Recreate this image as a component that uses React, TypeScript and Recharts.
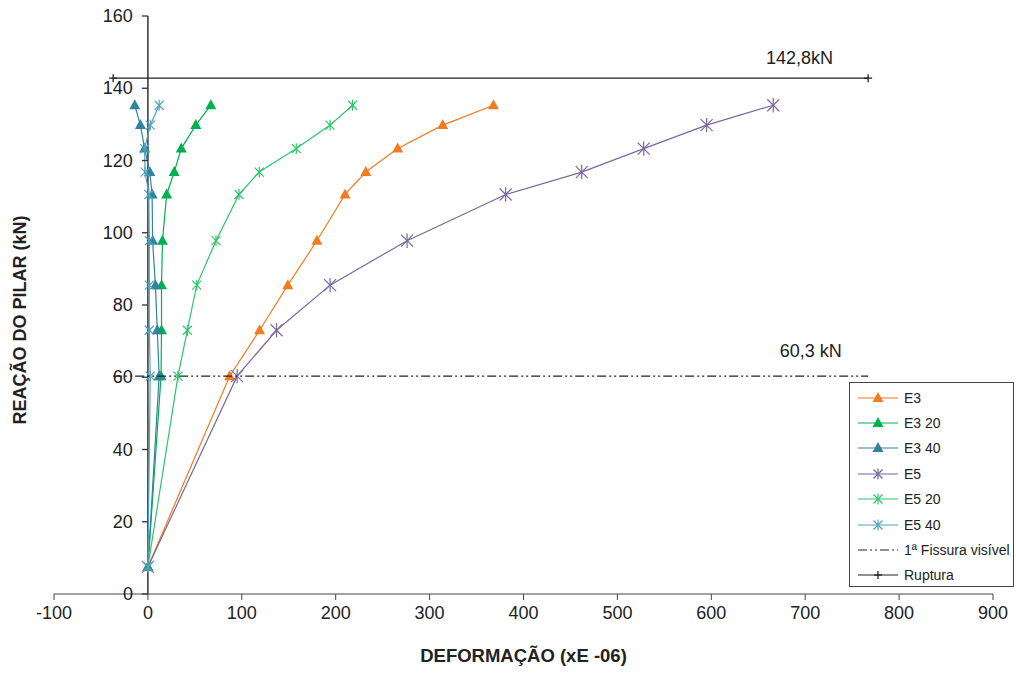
import React from 'react'
import { ScatterChart, Scatter, XAxis, YAxis, ReferenceLine, ReferenceDot, Legend } from 'recharts'

// load levels (kN) shared by all gauges
const loads = [7.5, 60.3, 73, 85.5, 97.8, 110.6, 116.8, 123.3, 129.8, 135.3]

// strain readings (xE-06)
const e3 = [0, 87, 119, 149, 180, 210, 232, 266, 314, 368]
const e3_20 = [0, 14, 14.5, 14.5, 15.5, 20, 28, 35.5, 51, 67]
const e3_40 = [0, 12, 10, 8, 5, 4.5, 2, -3.5, -8, -14]
const e5 = [0, 95, 137, 194, 276, 381, 462, 528, 595, 666]
const e5_20 = [0, 32, 42, 52, 72.5, 97, 118.6, 158, 194, 218]
const e5_40 = [0, 2.5, 1.5, 1.5, 1.5, 1, -3, -3.5, 2.5, 12]

const limitX = [-37, 767]
const fissuraLoad = [60.3, 60.3]
const rupturaLoad = [142.8, 142.8]

const xTicks = [-100, 0, 100, 200, 300, 400, 500, 600, 700, 800, 900]
const yTicks = [0, 20, 40, 60, 80, 100, 120, 140, 160]
const xDomain = [-100, 900]

const W = 1016
const H = 674
const M = { top: 16, right: 23, bottom: 50, left: 53 }
const yAxisW = 1
const xAxisH = 30
const plotLeft = M.left + yAxisW
const plotW = W - plotLeft - M.right
const axisX = plotLeft + ((0 - xDomain[0]) / (xDomain[1] - xDomain[0])) * plotW

const FONT = '"Liberation Sans", Arial, sans-serif'

const pts = (xs: number[], ys: number[]) => xs.map((x, i) => ({ x, y: ys[i] }))

const triangle = (color: string) => (p: any) => {
  const { cx, cy } = p
  if (cx == null) return <g />
  return <path d={`M${cx},${cy - 6} L${cx + 5.5},${cy + 4} L${cx - 5.5},${cy + 4} Z`} fill={color} />
}

const asterisk = (color: string, r: number) => (p: any) => {
  const { cx, cy } = p
  if (cx == null) return <g />
  return (
    <g stroke={color} strokeWidth={1.2}>
      <line x1={cx - r} y1={cy - r} x2={cx + r} y2={cy + r} />
      <line x1={cx - r} y1={cy + r} x2={cx + r} y2={cy - r} />
      <line x1={cx} y1={cy - r * 1.2} x2={cx} y2={cy + r * 1.2} />
    </g>
  )
}

const plus = (p: any) => {
  const { cx, cy } = p
  if (cx == null) return <g />
  return (
    <g stroke="#222" strokeWidth={1.3}>
      <line x1={cx - 4} y1={cy} x2={cx + 4} y2={cy} />
      <line x1={cx} y1={cy - 4} x2={cx} y2={cy + 4} />
    </g>
  )
}

const nothing = () => <g />

const series = [
  { name: 'E3', xs: e3, color: '#F37B20', marker: 'tri' },
  { name: 'E3 20', xs: e3_20, color: '#00B050', marker: 'tri' },
  { name: 'E3 40', xs: e3_40, color: '#31849B', marker: 'tri' },
  { name: 'E5', xs: e5, color: '#7A67A0', marker: 'ast', r: 6 },
  { name: 'E5 20', xs: e5_20, color: '#2EC46A', marker: 'ast', r: 4.5 },
  { name: 'E5 40', xs: e5_40, color: '#4FA3BE', marker: 'ast', r: 4.5 },
]

const DASHDOT = '9 3 2 3 2 3'

const LegendBox = () => {
  const row = (key: string, icon: React.ReactNode, text: string) => (
    <div key={key} style={{ display: 'flex', alignItems: 'center', height: 25.4 }}>
      <svg width={44} height={14} style={{ marginLeft: 8 }}>
        {icon}
      </svg>
      <span style={{ marginLeft: 2, fontSize: 14, color: '#222' }}>{text}</span>
    </div>
  )
  return (
    <div
      style={{
        border: '1px solid #444',
        background: '#fff',
        width: 165,
        height: 205,
        boxSizing: 'border-box',
        paddingTop: 2,
        fontFamily: FONT,
      }}
    >
      {series.map((s) =>
        row(
          s.name,
          <g>
            <line x1={0} y1={7} x2={40} y2={7} stroke={s.color} strokeWidth={1.2} />
            {s.marker === 'tri' ? triangle(s.color)({ cx: 20, cy: 7 }) : asterisk(s.color, 4.5)({ cx: 20, cy: 7 })}
          </g>,
          s.name
        )
      )}
      {row('fis', <line x1={0} y1={7} x2={40} y2={7} stroke="#222" strokeWidth={1.2} strokeDasharray={DASHDOT} />, '1ª Fissura visível')}
      {row(
        'rup',
        <g>
          <line x1={0} y1={7} x2={40} y2={7} stroke="#222" strokeWidth={1.2} />
          {plus({ cx: 20, cy: 7 })}
        </g>,
        'Ruptura'
      )}
    </div>
  )
}

const YTick = (p: any) => {
  const { y, payload } = p
  return (
    <g>
      <line x1={axisX - 6} y1={y} x2={axisX} y2={y} stroke="#333" strokeWidth={1.3} />
      <text x={axisX - 15} y={y} textAnchor="end" dominantBaseline="central" fontSize={18} fill="#222" fontFamily={FONT}>
        {payload.value}
      </text>
    </g>
  )
}

const YTitle = () => (
  <text
    x={20}
    y={320}
    transform="rotate(-90 20 320)"
    textAnchor="middle"
    dominantBaseline="central"
    fontSize={18}
    fontWeight="bold"
    fill="#222"
    fontFamily={FONT}
  >
    REAÇÃO DO PILAR (kN)
  </text>
)

export default function App() {
  return (
    <div style={{ position: 'absolute', left: 0, top: 0, background: '#fff' }}>
      <ScatterChart width={W} height={H} margin={M}>
        <XAxis
          type="number"
          dataKey="x"
          domain={xDomain}
          ticks={xTicks}
          height={xAxisH}
          allowDataOverflow
          stroke="#444"
          tickSize={6}
          tickMargin={6}
          tick={{ fontSize: 18, fill: '#222', fontFamily: FONT }}
          label={{
            value: 'DEFORMAÇÃO (xE -06)',
            position: 'bottom',
            offset: 25,
            fontSize: 18.5,
            fontWeight: 'bold',
            fill: '#222',
            fontFamily: FONT,
          }}
        />
        <YAxis
          type="number"
          dataKey="y"
          domain={[0, 160]}
          ticks={yTicks}
          width={yAxisW}
          axisLine={false}
          tickLine={false}
          tick={YTick}
          label={YTitle}
        />
        <ReferenceLine x={0} stroke="#333" strokeWidth={1.5} />

        {series.map((s) => (
          <Scatter
            key={s.name}
            name={s.name}
            data={pts(s.xs, loads)}
            fill={s.color}
            line={{ stroke: s.color, strokeWidth: 1.2 }}
            shape={s.marker === 'tri' ? triangle(s.color) : asterisk(s.color, s.r as number)}
            isAnimationActive={false}
          />
        ))}

        <Scatter
          name="1ª Fissura visível"
          data={pts(limitX, fissuraLoad)}
          fill="#222"
          line={{ stroke: '#222', strokeWidth: 1.2, strokeDasharray: DASHDOT }}
          shape={nothing}
          isAnimationActive={false}
        />
        <Scatter
          name="Ruptura"
          data={pts(limitX, rupturaLoad)}
          fill="#222"
          line={{ stroke: '#222', strokeWidth: 1.3 }}
          shape={plus}
          isAnimationActive={false}
        />

        <ReferenceDot
          x={694}
          y={148.4}
          r={0}
          fill="none"
          stroke="none"
          label={{ value: '142,8kN', position: 'center', fontSize: 18, fill: '#222', fontFamily: FONT }}
        />
        <ReferenceDot
          x={706}
          y={67.5}
          r={0}
          fill="none"
          stroke="none"
          label={{ value: '60,3 kN', position: 'center', fontSize: 18, fill: '#222', fontFamily: FONT }}
        />

        <Legend
          layout="vertical"
          align="center"
          verticalAlign="middle"
          content={LegendBox}
          wrapperStyle={{ left: 849, top: 382, width: 165 }}
        />
      </ScatterChart>
    </div>
  )
}
